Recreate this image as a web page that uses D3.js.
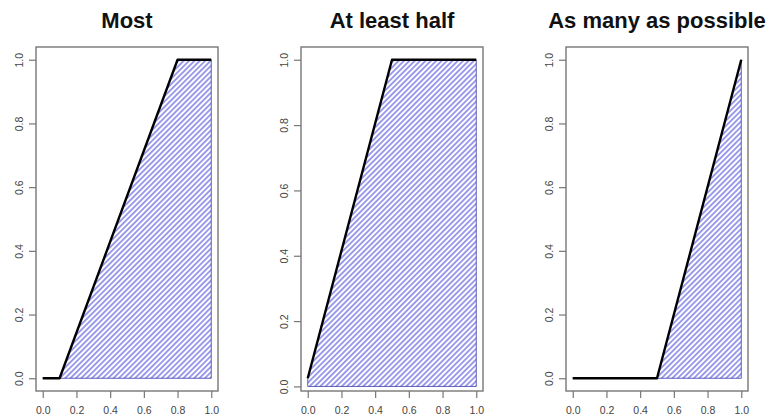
<!DOCTYPE html>
<html>
<head>
<meta charset="utf-8">
<script src="https://cdn.jsdelivr.net/npm/d3@7"></script>
<style>
  body { margin: 0; background: #fff; }
  svg { display: block; font-family: "Liberation Sans", Arial, sans-serif; }
</style>
</head>
<body>
<svg id="chart"></svg>
<script>
// panel titles and the curve of each panel
var titles = ["Most", "At least half", "As many as possible"];
var mostX = [0, 0.1, 0.8, 1];
var mostY = [0, 0, 1, 1];
var halfX = [0, 0.5, 1];
var halfY = [0.025, 1, 1];
var possibleX = [0, 0.5, 1];
var possibleY = [0, 0, 1];
var tickValues = [0, 0.2, 0.4, 0.6, 0.8, 1.0];

var curves = [
  { x: mostX, y: mostY },
  { x: halfX, y: halfY },
  { x: possibleX, y: possibleY }
];

var width = 769, height = 417;
var svg = d3.select("#chart").attr("width", width).attr("height", height);

// diagonal hatching like R's density shading
var pat = svg.append("defs").append("pattern")
    .attr("id", "hatch")
    .attr("patternUnits", "userSpaceOnUse")
    .attr("width", 3.8)
    .attr("height", 10)
    .attr("patternTransform", "rotate(45)");
pat.append("line")
    .attr("x1", 1.9).attr("y1", 0)
    .attr("x2", 1.9).attr("y2", 10)
    .attr("stroke", "#3c3cd6")
    .attr("stroke-width", 1);

var boxLefts = [36, 301, 566];
var boxW = 182, boxTop = 47, boxBottom = 391;

// R style axis limits: data range padded by 4%
function padded(vals) {
  var lo = d3.min(vals), hi = d3.max(vals), r = hi - lo;
  return [lo - 0.04 * r, hi + 0.04 * r];
}

curves.forEach(function(c, i) {
  var left = boxLefts[i];
  var x = d3.scaleLinear().domain(padded(c.x)).range([left, left + boxW]);
  var y = d3.scaleLinear().domain(padded(c.y)).range([boxBottom, boxTop]);
  var g = svg.append("g");

  var pts = c.x.map(function(v, k) { return [v, c.y[k]]; });
  var poly = [[c.x[0], 0]].concat(pts).concat([[c.x[c.x.length - 1], 0]]);

  // hatched area under the curve
  g.append("path")
    .attr("d", d3.line().x(d => x(d[0])).y(d => y(d[1]))(poly) + "Z")
    .attr("fill", "url(#hatch)")
    .attr("stroke", "#3a3aa8")
    .attr("stroke-width", 0.8);

  // the curve
  g.append("path")
    .attr("d", d3.line().x(d => x(d[0])).y(d => y(d[1]))(pts))
    .attr("fill", "none")
    .attr("stroke", "#000")
    .attr("stroke-width", 2.4)
    .attr("stroke-linejoin", "round");

  // box
  g.append("rect")
    .attr("x", left).attr("y", boxTop)
    .attr("width", boxW).attr("height", boxBottom - boxTop)
    .attr("fill", "none")
    .attr("stroke", "#777")
    .attr("stroke-width", 1.4);

  // x axis
  var xa = g.append("g")
    .attr("transform", "translate(0," + boxBottom + ")")
    .call(d3.axisBottom(x).tickValues(tickValues).tickFormat(d3.format(".1f"))
      .tickSizeOuter(0).tickSizeInner(7).tickPadding(9));
  xa.select(".domain").remove();
  xa.selectAll("line").attr("stroke", "#777").attr("stroke-width", 1.2);
  xa.selectAll("text").attr("fill", "#444").attr("font-size", "10.5px")
    .attr("font-family", "Liberation Sans, Arial, sans-serif");

  // y axis, labels turned like R's las=0
  var ya = g.append("g")
    .attr("transform", "translate(" + left + ",0)")
    .call(d3.axisLeft(y).tickValues(tickValues).tickFormat(d3.format(".1f"))
      .tickSizeOuter(0).tickSizeInner(7));
  ya.select(".domain").remove();
  ya.selectAll("line").attr("stroke", "#777").attr("stroke-width", 1.2);
  ya.selectAll("text")
    .attr("fill", "#444").attr("font-size", "10.5px")
    .attr("font-family", "Liberation Sans, Arial, sans-serif")
    .attr("x", null).attr("dy", null)
    .attr("text-anchor", "middle")
    .attr("transform", "translate(-17,0) rotate(-90)")
    .attr("dy", "0.35em");

  // title
  svg.append("text")
    .attr("x", left + boxW / 2)
    .attr("y", 28)
    .attr("text-anchor", "middle")
    .attr("font-size", "22px")
    .attr("font-weight", "bold")
    .attr("fill", "#111")
    .text(titles[i]);
});
</script>
</body>
</html>
